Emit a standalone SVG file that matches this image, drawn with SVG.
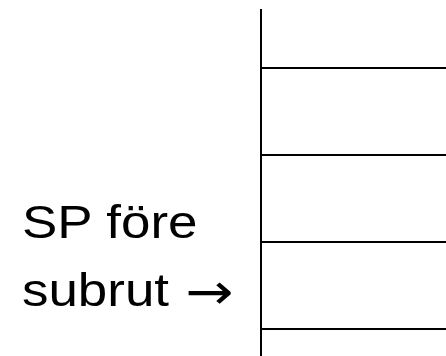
<svg xmlns="http://www.w3.org/2000/svg" width="446" height="356" viewBox="0 0 446 356">
<style>
.ln{stroke:#000;stroke-width:2;fill:none}
.lb{font-family:"Liberation Sans",Arial,sans-serif;font-size:46px;fill:#000}
.ar{font-family:"DejaVu Sans",sans-serif;font-size:50px}
</style>
<rect width="446" height="356" fill="#fff"/>
<g id="connectors">
<line class="ln" x1="261" y1="9" x2="261" y2="356"/>
<line class="ln" x1="261" y1="68" x2="446" y2="68"/>
<line class="ln" x1="261" y1="155" x2="446" y2="155"/>
<line class="ln" x1="261" y1="242" x2="446" y2="242"/>
<line class="ln" x1="261" y1="329" x2="446" y2="329"/>
</g>
<g id="label">
<text class="lb" transform="translate(22,238) scale(1.15,1)" x="0" y="0">SP före</text>
<text class="lb" transform="translate(22,306) scale(1.15,1)" x="0" y="0">subrut <tspan class="ar" x="142" y="3">→</tspan></text>
</g>
</svg>
